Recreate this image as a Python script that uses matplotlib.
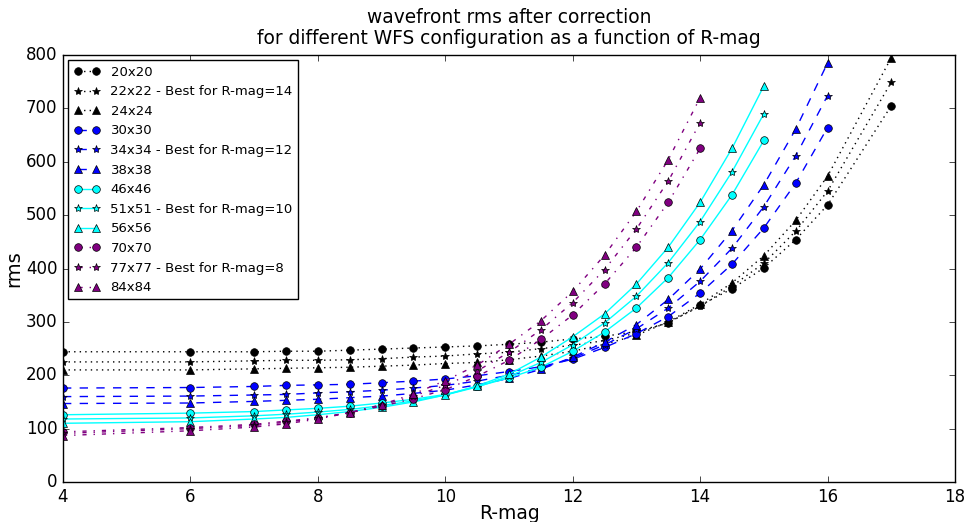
import matplotlib
matplotlib.use("Agg")
import matplotlib.pyplot as plt

plt.style.use("classic")
plt.rcParams["figure.facecolor"] = "white"
plt.rcParams["savefig.facecolor"] = "white"
plt.rcParams["font.family"] = ["DejaVu Sans"]

# R magnitudes sampled by the simulation
rmag_all = [4, 6, 7, 7.5, 8, 8.5, 9, 9.5, 10, 10.5, 11, 11.5, 12, 12.5,
            13, 13.5, 14, 14.5, 15, 15.5, 16, 17]
rmag_blue = rmag_all[:21]    # up to 16
rmag_cyan = rmag_all[:19]    # up to 15
rmag_purple = rmag_all[:17]  # up to 14

# wavefront rms for each WFS sampling
rms_20 = [244, 244, 244, 245, 245, 247, 249, 251, 253, 255, 258, 262, 268,
          273, 282, 298, 331, 362, 401, 454, 519, 705]
rms_22 = [225, 225, 227, 228, 228, 229, 231, 234, 236, 240, 243, 250, 256,
          265, 279, 299, 329, 367, 410, 470, 545, 749]
rms_24 = [210, 210, 212, 213, 214, 215, 217, 219, 222, 224, 229, 236, 245,
          258, 275, 300, 333, 373, 424, 490, 573, 795]
rms_30 = [176, 177, 179, 181, 182, 183, 186, 189, 193, 199, 207, 216, 230,
          252, 278, 310, 354, 408, 476, 560, 664]
rms_34 = [160, 161, 163, 164, 167, 169, 172, 176, 181, 189, 200, 213, 232,
          257, 287, 326, 376, 438, 516, 611, 724]
rms_38 = [147, 148, 151, 153, 155, 158, 161, 166, 172, 182, 194, 211, 234,
          262, 295, 342, 399, 471, 557, 661, 785]
rms_46 = [126, 129, 132, 135, 138, 142, 148, 155, 164, 179, 195, 215, 245,
          281, 326, 383, 454, 538, 640]
rms_51 = [118, 120, 124, 127, 131, 136, 143, 152, 163, 178, 198, 224, 257,
          298, 348, 411, 488, 581, 690]
rms_56 = [110, 113, 118, 121, 126, 132, 140, 150, 163, 180, 202, 234, 272,
          315, 371, 440, 524, 625, 742]
rms_70 = [94, 102, 108, 114, 120, 130, 142, 156, 173, 198, 228, 267, 313,
          371, 440, 524, 625]
rms_77 = [91, 100, 106, 112, 120, 130, 144, 161, 181, 208, 243, 285, 336,
          398, 474, 564, 673]
rms_84 = [87, 96, 103, 109, 118, 130, 145, 165, 190, 219, 258, 302, 357,
          425, 507, 604, 720]

labels = ["20x20", "22x22 - Best for R-mag=14", "24x24",
          "30x30", "34x34 - Best for R-mag=12", "38x38",
          "46x46", "51x51 - Best for R-mag=10", "56x56",
          "70x70", "77x77 - Best for R-mag=8", "84x84"]

series = [
    (rmag_all, rms_20, "k", ":", "o"),
    (rmag_all, rms_22, "k", ":", "*"),
    (rmag_all, rms_24, "k", ":", "^"),
    (rmag_blue, rms_30, "b", "--", "o"),
    (rmag_blue, rms_34, "b", "--", "*"),
    (rmag_blue, rms_38, "b", "--", "^"),
    (rmag_cyan, rms_46, "cyan", "-", "o"),
    (rmag_cyan, rms_51, "cyan", "-", "*"),
    (rmag_cyan, rms_56, "cyan", "-", "^"),
    (rmag_purple, rms_70, "purple", "-.", "o"),
    (rmag_purple, rms_77, "purple", "-.", "*"),
    (rmag_purple, rms_84, "purple", "-.", "^"),
]
marker_sizes = {"o": 5.5, "*": 6, "^": 5.5}

fig = plt.figure(figsize=(9.65, 5.22), dpi=100)
ax = fig.add_axes([63 / 965, 1 - 482 / 522, 892 / 965, 427 / 522])

for (x, y, col, ls, mk), lab in zip(series, labels):
    ax.plot(x, y, color=col, linestyle=ls, marker=mk,
            markersize=marker_sizes[mk], markeredgecolor="k",
            markeredgewidth=0.5, linewidth=1, label=lab)

ax.set_xlim(4, 18)
ax.set_ylim(0, 800)
ax.set_xticks(range(4, 19, 2))
ax.set_yticks(range(0, 801, 100))
ax.tick_params(labelsize=12)
ax.set_xlabel("R-mag", fontsize=13.5, labelpad=-1)
ax.set_ylabel("rms", fontsize=14, labelpad=2)
ax.set_title("wavefront rms after correction\n"
             "for different WFS configuration as a function of R-mag",
             fontsize=13.4, linespacing=1.1, pad=8)

leg = ax.legend(loc="upper left", fontsize=9.5, numpoints=2,
                fancybox=False, handlelength=2, labelspacing=0.5,
                borderaxespad=0.4)
leg.get_frame().set_edgecolor("k")

fig.savefig("out.png", dpi=100)
